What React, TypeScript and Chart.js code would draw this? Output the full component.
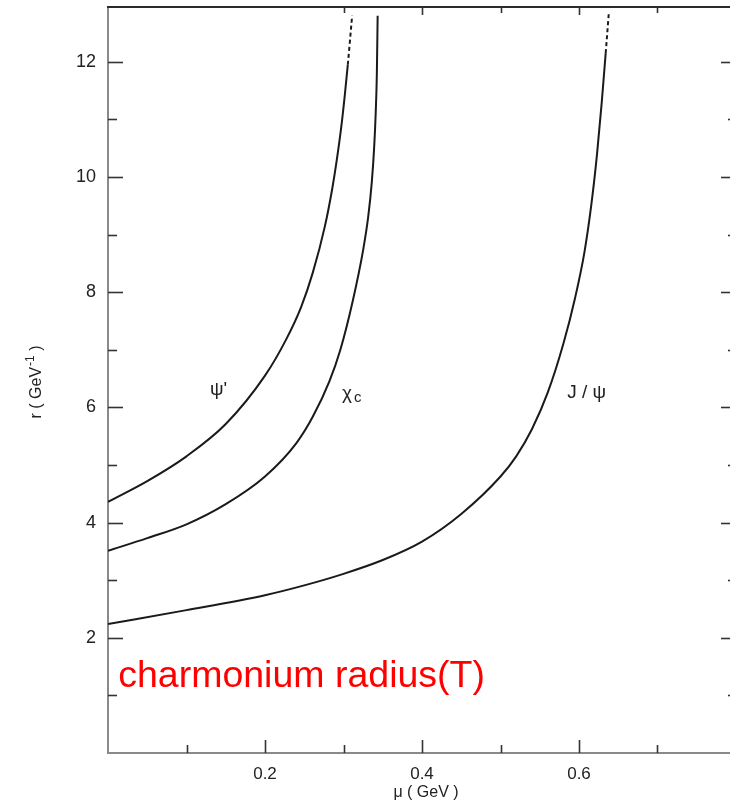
import React, { useEffect, useRef } from 'react';
import { Chart, registerables } from 'chart.js';

Chart.register(...registerables);

// ---- data (mu in GeV, r in GeV^-1) ----
const psiPrimeMu = [0, 0.05, 0.10, 0.15, 0.20, 0.227, 0.246, 0.2607, 0.2764, 0.2857, 0.2915, 0.297, 0.3015, 0.3055, 0.311];
const psiPrimeR = [4.36, 4.72, 5.15, 5.71, 6.55, 7.18, 7.74, 8.33, 9.15, 9.80, 10.3, 10.85, 11.4, 11.95, 12.8];

const chiCMu = [0, 0.05, 0.10, 0.15, 0.20, 0.24, 0.261, 0.282, 0.296, 0.312, 0.325, 0.3315, 0.336, 0.339, 0.341, 0.3425, 0.3435];
const chiCR = [3.51, 3.73, 3.97, 4.32, 4.80, 5.38, 5.84, 6.45, 7.0, 7.86, 8.73, 9.31, 9.90, 10.5, 11.1, 11.8, 12.8];

const jpsiMu = [0, 0.1, 0.2, 0.25, 0.3, 0.35, 0.4, 0.45, 0.5, 0.52, 0.54, 0.56, 0.58, 0.595, 0.607, 0.616, 0.623, 0.629, 0.634, 0.638];
const jpsiR = [2.24, 2.48, 2.74, 2.91, 3.11, 3.35, 3.67, 4.15, 4.80, 5.15, 5.62, 6.25, 7.10, 7.90, 8.70, 9.55, 10.4, 11.3, 12.15, 12.85];

const xTickLabels = ['0.2', '0.4', '0.6'];
const yTickLabels = ['2', '4', '6', '8', '10', '12'];

const curveNames = ["ψ'", 'χ', 'J / ψ'];
const curveLabelMu = [0.130, 0.298, 0.585];
const curveLabelR = [6.30, 6.24, 6.26];

const xTitle = 'μ ( GeV )';
const yTitleMain = 'r ( GeV';
const yTitleSup = '-1';
const yTitleEnd = ' )';
const noteText = 'charmonium radius(T)';
const noteMu = 0.013;
const noteR = 1.15;

const FONT = '"Liberation Sans", Arial, sans-serif';

function pts(xs: number[], ys: number[]) {
  return xs.map((v, i) => ({ x: v, y: ys[i] }));
}

const decorPlugin = {
  id: 'decor',
  afterDraw(chart: any) {
    const { ctx, chartArea: a, scales } = chart;
    const x = scales.x;
    const y = scales.y;
    ctx.save();
    const seg = (x1: number, y1: number, x2: number, y2: number) => {
      ctx.beginPath();
      ctx.moveTo(x1, y1);
      ctx.lineTo(x2, y2);
      ctx.stroke();
    };
    // top frame line
    ctx.strokeStyle = '#2b2b2b';
    ctx.lineWidth = 2;
    seg(a.left - 1, a.top, a.right, a.top);

    // tick marks (inward)
    ctx.strokeStyle = '#333';
    ctx.lineWidth = 1.6;
    x.ticks.forEach((t: any) => {
      const v = Math.round(t.value * 10) / 10;
      if (v <= 0 || v >= 0.8) return;
      const major = xTickLabels.includes(v.toFixed(1));
      const px = Math.round(x.getPixelForValue(t.value)) + 0.5;
      seg(px, a.bottom, px, a.bottom - (major ? 13 : 8));
      if (v >= 0.3) seg(px, a.top, px, a.top + (major ? 8 : 6));
    });
    y.ticks.forEach((t: any) => {
      const v = t.value;
      if (Math.abs(v - Math.round(v)) > 1e-6 || v <= 0 || v >= 13) return;
      const major = yTickLabels.includes(String(Math.round(v)));
      const py = Math.round(y.getPixelForValue(v)) + 0.5;
      seg(a.left, py, a.left + (major ? 15 : 9), py);
      seg(a.right, py, a.right - (major ? 15 : 8), py);
    });

    // axis titles
    ctx.fillStyle = '#222';
    ctx.textAlign = 'center';
    ctx.textBaseline = 'middle';
    ctx.font = `16px ${FONT}`;
    ctx.fillText(xTitle, (a.left + a.right) / 2 + 4, a.bottom + 40);

    ctx.save();
    ctx.translate(a.left - 72, (a.top + a.bottom) / 2 + 2);
    ctx.rotate(-Math.PI / 2);
    ctx.textBaseline = 'alphabetic';
    ctx.textAlign = 'left';
    ctx.font = `16px ${FONT}`;
    const w1 = ctx.measureText(yTitleMain).width;
    ctx.font = `12px ${FONT}`;
    const w2 = ctx.measureText(yTitleSup).width;
    ctx.font = `16px ${FONT}`;
    const w3 = ctx.measureText(yTitleEnd).width;
    let sx = -(w1 + w2 + 1 + w3) / 2;
    ctx.fillText(yTitleMain, sx, 5);
    sx += w1 + 1;
    ctx.font = `12px ${FONT}`;
    ctx.fillText(yTitleSup, sx, -2);
    sx += w2;
    ctx.font = `16px ${FONT}`;
    ctx.fillText(yTitleEnd, sx, 5);
    ctx.restore();

    // curve labels
    ctx.textAlign = 'left';
    ctx.textBaseline = 'middle';
    ctx.font = `19px ${FONT}`;
    curveNames.forEach((name, i) => {
      const px = x.getPixelForValue(curveLabelMu[i]);
      const py = y.getPixelForValue(curveLabelR[i]);
      ctx.fillText(name, px, py);
      if (name === 'χ') {
        const w = ctx.measureText(name).width;
        ctx.font = `15px ${FONT}`;
        ctx.fillText('c', px + w + 2, py + 4);
        ctx.font = `19px ${FONT}`;
      }
    });

    // red annotation
    ctx.fillStyle = '#ff0000';
    ctx.textBaseline = 'alphabetic';
    ctx.font = `37.5px ${FONT}`;
    ctx.fillText(noteText, x.getPixelForValue(noteMu), y.getPixelForValue(noteR));
    ctx.restore();
  },
};

export default function App() {
  const ref = useRef<HTMLCanvasElement | null>(null);
  useEffect(() => {
    if (!ref.current) return;
    const lineStyle = {
      borderColor: '#1a1a1a',
      borderWidth: 2,
      pointRadius: 0,
      fill: false,
      cubicInterpolationMode: 'monotone' as const,
    };
    const dashTop = (n: number) => ({
      borderDash: (c: any) => (c.p1DataIndex === n - 1 ? [4, 3] : undefined),
    });
    const chart = new Chart(ref.current, {
      type: 'line',
      data: {
        datasets: [
          { label: "ψ'", data: pts(psiPrimeMu, psiPrimeR), ...lineStyle, segment: dashTop(psiPrimeMu.length) },
          { label: 'χc', data: pts(chiCMu, chiCR), ...lineStyle },
          { label: 'J/ψ', data: pts(jpsiMu, jpsiR), ...lineStyle, segment: dashTop(jpsiMu.length) },
        ],
      },
      options: {
        responsive: false,
        animation: false,
        parsing: false as any,
        layout: { padding: { top: 7, right: 9, left: 0, bottom: 0 } },
        plugins: { legend: { display: false }, tooltip: { enabled: false } },
        scales: {
          x: {
            type: 'linear',
            min: 0,
            max: 0.8,
            grid: { display: false, drawTicks: false },
            border: { display: true, color: '#8a8a8a', width: 2 },
            ticks: {
              stepSize: 0.1,
              autoSkip: false,
              maxRotation: 0,
              padding: 11,
              color: '#222',
              font: { family: FONT, size: 17 },
              callback: (v: any) => {
                const s = Number(v).toFixed(1);
                return xTickLabels.includes(s) ? s : '';
              },
            },
            afterFit: (s: any) => {
              s.height = 51;
              s.paddingLeft = 0;
              s.paddingRight = 0;
            },
          },
          y: {
            type: 'linear',
            min: 0,
            max: 12.95,
            grid: { display: false, drawTicks: false },
            border: { display: true, color: '#8a8a8a', width: 2 },
            ticks: {
              stepSize: 1,
              autoSkip: false,
              padding: 12,
              color: '#222',
              font: { family: FONT, size: 18 },
              callback: (v: any) => {
                const s = String(Math.round(Number(v)));
                return Math.abs(Number(v) - Math.round(Number(v))) < 1e-6 && yTickLabels.includes(s) ? s : '';
              },
            },
            afterFit: (s: any) => {
              s.width = 108;
              s.paddingTop = 0;
              s.paddingBottom = 0;
            },
          },
        },
      },
      plugins: [decorPlugin],
    });
    return () => chart.destroy();
  }, []);
  return (
    <div style={{ position: 'fixed', left: 0, top: 0, width: 730, height: 804, overflow: 'hidden', background: '#fff' }}>
      <canvas ref={ref} width={745} height={804} style={{ display: 'block' }} />
    </div>
  );
}
